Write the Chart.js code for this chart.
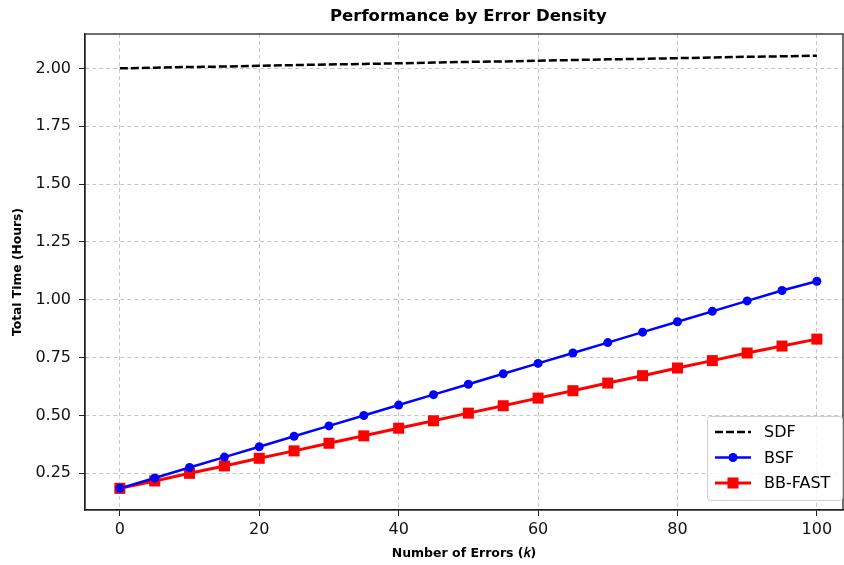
<!DOCTYPE html>
<html>
<head>
<meta charset="utf-8">
<script src="https://cdn.jsdelivr.net/npm/chart.js@4.4.1/dist/chart.umd.min.js"></script>
<style>
html,body{margin:0;padding:0;background:#fff;}
#wrap{width:844px;height:565px;position:relative;}
</style>
</head>
<body>
<div id="wrap"><canvas id="c" width="844" height="565"></canvas></div>
<script>
const errors = [0,5,10,15,20,25,30,35,40,45,50,55,60,65,70,75,80,85,90,95,100];
const sdf = [2.000,2.003,2.006,2.008,2.011,2.014,2.017,2.019,2.022,2.025,2.028,2.030,2.033,2.036,2.039,2.041,2.044,2.047,2.050,2.052,2.055];
const bsf = [0.185,0.230,0.275,0.320,0.365,0.410,0.455,0.500,0.545,0.590,0.635,0.680,0.725,0.770,0.815,0.860,0.905,0.950,0.995,1.040,1.080];
const bbfast = [0.185,0.217,0.250,0.282,0.315,0.347,0.380,0.412,0.445,0.477,0.510,0.542,0.575,0.607,0.640,0.672,0.705,0.737,0.770,0.800,0.830];
const xTicks = [0,20,40,60,80,100];
const yTicks = [0.25,0.50,0.75,1.00,1.25,1.50,1.75,2.00];
const seriesNames = ['SDF','BSF','BB-FAST'];
const titleText = 'Performance by Error Density';

const FONT = "'DejaVu Sans', sans-serif";
const pts = (ys) => errors.map((x,i)=>({x:x,y:ys[i]}));
const AREA_RIGHT = 843;

const fixAreaPlugin = {
  id:'fixArea',
  afterLayout(chart){
    const a = chart.chartArea;
    a.right = AREA_RIGHT; a.width = a.right - a.left;
    const xs = chart.scales.x;
    xs.right = AREA_RIGHT; xs.width = xs.right - xs.left;
    xs.configure();
    const ys = chart.scales.y;
    ys._gridLineItems = null;
  }
};

const framePlugin = {
  id:'frame',
  afterDraw(chart){
    const {ctx, chartArea:a} = chart;
    ctx.save();
    ctx.strokeStyle = '#222';
    ctx.lineWidth = 1.3;
    ctx.strokeRect(a.left, a.top, a.right-a.left, a.bottom-a.top);
    // title
    ctx.fillStyle = '#000';
    ctx.font = "bold 16.5px " + FONT;
    ctx.textAlign = 'center';
    ctx.textBaseline = 'middle';
    const xs = chart.scales.x;
    const cx = (xs.getPixelForValue(-5) + xs.getPixelForValue(105))/2;
    ctx.fillText(titleText, cx, 17);
    // legend
    const lx = 707, ly = 416, lw = 135, lh = 84;
    ctx.fillStyle = 'rgba(255,255,255,0.85)';
    ctx.strokeStyle = '#d0d0d0';
    ctx.lineWidth = 1;
    ctx.beginPath();
    if (ctx.roundRect) ctx.roundRect(lx+0.5, ly+0.5, lw, lh, 3); else ctx.rect(lx+0.5, ly+0.5, lw, lh);
    ctx.fill(); ctx.stroke();
    const ds = chart.data.datasets;
    ds.forEach((d,i)=>{
      const y = ly + 16 + i*25.5;
      ctx.save();
      ctx.strokeStyle = d.borderColor;
      ctx.lineWidth = d.borderWidth;
      ctx.setLineDash(d.borderDash || []);
      ctx.beginPath(); ctx.moveTo(715, y); ctx.lineTo(751, y); ctx.stroke();
      ctx.restore();
      if (d.pointRadius > 0) {
        ctx.fillStyle = d.pointBackgroundColor;
        if (d.pointStyle === 'rect') {
          const s = d.pointRadius*Math.SQRT1_2;
          ctx.fillRect(733-s, y-s, 2*s, 2*s);
        } else {
          ctx.beginPath(); ctx.arc(733, y, d.pointRadius, 0, Math.PI*2); ctx.fill();
        }
      }
      ctx.fillStyle = '#000';
      ctx.font = "16px " + FONT;
      ctx.textAlign = 'left';
      ctx.fillText(d.label, 764, y+1);
    });
    ctx.restore();
  }
};

const gridOpts = {color:'rgba(160,160,160,0.6)', lineWidth:1, drawTicks:true, tickLength:6, tickColor:'#222', tickBorderDash:[], tickWidth:1};
const borderOpts = {display:true, color:'#222', width:1.3, dash:[4,3]};

new Chart(document.getElementById('c'), {
  type:'line',
  data:{
    datasets:[
      {label:seriesNames[0], data:pts(sdf), borderColor:'#000', backgroundColor:'#000', borderWidth:2.5, borderDash:[8,3], pointRadius:0, pointHoverRadius:0, pointBackgroundColor:'#000'},
      {label:seriesNames[1], data:pts(bsf), borderColor:'#0000ff', backgroundColor:'#0000ff', borderWidth:2.5, pointRadius:4.5, pointStyle:'circle', pointBackgroundColor:'#0000ff', pointBorderColor:'#0000ff', pointBorderWidth:0},
      {label:seriesNames[2], data:pts(bbfast), borderColor:'#ff0000', backgroundColor:'#ff0000', borderWidth:3, pointRadius:7.8, pointStyle:'rect', pointBackgroundColor:'#ff0000', pointBorderColor:'#ff0000', pointBorderWidth:0}
    ]
  },
  options:{
    responsive:false,
    animation:false,
    layout:{padding:{top:34,right:1,left:0,bottom:0}},
    plugins:{legend:{display:false}, title:{display:false}, tooltip:{enabled:false}},
    scales:{
      x:{
        type:'linear', min:-5, max:103.75,
        afterBuildTicks(s){ s.ticks = xTicks.map(v=>({value:v})); },
        afterFit(s){ s.height = 55; s.paddingLeft = 0; s.paddingRight = 0; },
        grid:gridOpts,
        border:borderOpts,
        ticks:{color:'#111', font:{family:FONT, size:16}, padding:4, maxRotation:0},
        title:{display:true, text:'Number of Errors (𝑘)', color:'#000', font:{family:FONT, size:12.5, weight:'bold'}, padding:{top:0,bottom:4}}
      },
      y:{
        type:'linear', min:0.0915, max:2.1485,
        afterBuildTicks(s){ s.ticks = yTicks.map(v=>({value:v})); },
        afterFit(s){ s.width = 85; s.paddingTop = 0; s.paddingBottom = 0; },
        grid:gridOpts,
        border:borderOpts,
        ticks:{color:'#111', font:{family:FONT, size:16}, padding:8, callback:(v)=>Number(v).toFixed(2)},
        title:{display:true, text:'Total Time (Hours)', color:'#000', font:{family:FONT, size:12.3, weight:'bold'}, padding:{top:10,bottom:0}}
      }
    }
  },
  plugins:[fixAreaPlugin, framePlugin]
});
</script>
</body>
</html>
